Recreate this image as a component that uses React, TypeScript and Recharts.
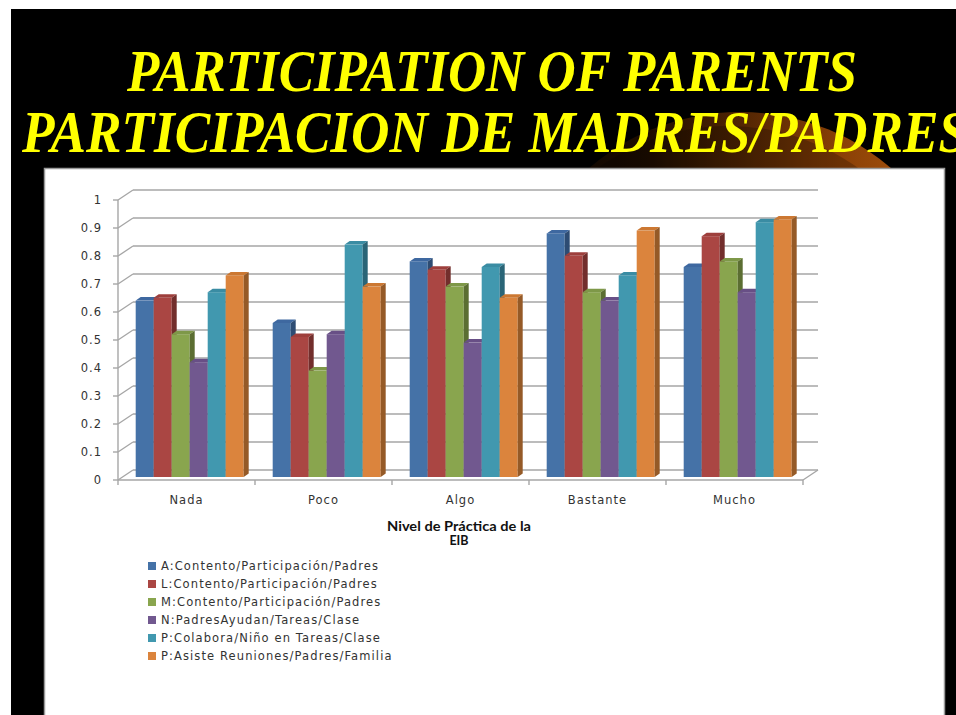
import React from 'react';
import { BarChart, Bar, XAxis, YAxis, CartesianGrid } from 'recharts';

// ---------- data ----------
const categories = ['Nada', 'Poco', 'Algo', 'Bastante', 'Mucho'];
const seriesNames = [
  'A:Contento/Participación/Padres',
  'L:Contento/Participación/Padres',
  'M:Contento/Participación/Padres',
  'N:PadresAyudan/Tareas/Clase',
  'P:Colabora/Niño en Tareas/Clase',
  'P:Asiste Reuniones/Padres/Familia',
];
const serA = [0.63, 0.55, 0.77, 0.87, 0.75];
const serL = [0.64, 0.5, 0.74, 0.79, 0.86];
const serM = [0.51, 0.38, 0.68, 0.66, 0.77];
const serN = [0.41, 0.51, 0.48, 0.63, 0.66];
const serPC = [0.66, 0.83, 0.75, 0.72, 0.91];
const serPA = [0.72, 0.68, 0.64, 0.88, 0.92];
const yTicks = [0, 0.1, 0.2, 0.3, 0.4, 0.5, 0.6, 0.7, 0.8, 0.9, 1];
const titleLines = ['PARTICIPATION OF PARENTS', 'PARTICIPACION DE MADRES/PADRES'];
const axisTitleLines = ['Nivel de Práctica de la', 'EIB'];

const allSeries = [serA, serL, serM, serN, serPC, serPA];
const keys = ['a', 'l', 'm', 'n', 'pc', 'pa'];
const fronts = ['#4572A7', '#AA4643', '#89A54E', '#71588F', '#4198AF', '#DB843D'];
const sides = ['#2D4C73', '#722E2C', '#5B6E32', '#4A3A60', '#2A6577', '#955A27'];
const tops = ['#3E68A0', '#9E3F3C', '#7E9848', '#684F86', '#3A8CA3', '#CC7832'];

const data = categories.map((c, i) => {
  const row: any = { cat: c };
  keys.forEach((k, j) => (row[k] = allSeries[j][i]));
  return row;
});

// ---------- layout ----------
const W = 956;
const H = 715;
const PL = 118;
const PR = 803;
const PT = 200;
const PB = 480;
const DX = 15;
const DY = 10;
const GRID = '#A6A6A6';
const SERIF = "'Liberation Serif', 'Times New Roman', Times, serif";

const make3D = (fill: string, side: string, top: string) => (props: any) => {
  const { x, y, width, height } = props;
  if (width == null || height == null) return <g />;
  const X = x + 4;
  const Y = y - 3;
  const d = 5;
  const e = 3.5;
  return (
    <g>
      <rect x={X} y={Y} width={width} height={height} fill={fill} />
      <polygon
        points={`${X},${Y} ${X + d},${Y - e} ${X + width + d},${Y - e} ${X + width},${Y}`}
        fill={top}
      />
      <polygon
        points={`${X + width},${Y} ${X + width + d},${Y - e} ${X + width + d},${Y + height - e} ${X + width},${Y + height}`}
        fill={side}
      />
    </g>
  );
};

const gridLine = (p: any) => {
  const { x1, x2, y1 } = p;
  const isFloor = y1 > PB - 1;
  return (
    <g key={p.key}>
      <line x1={x1} y1={y1} x2={x1 + DX} y2={y1 - DY} stroke={GRID} strokeWidth={1.4} />
      <line x1={x1 + DX} y1={y1 - DY} x2={x2 + DX} y2={y1 - DY} stroke={GRID} strokeWidth={1.4} />
      {isFloor && (
        <line x1={x2} y1={y1} x2={x2 + DX} y2={y1 - DY} stroke={GRID} strokeWidth={1.4} />
      )}
    </g>
  );
};

const XTick = (props: any) => {
  const { x, payload, index } = props;
  const half = (PR - PL) / categories.length / 2;
  return (
    <g>
      <line x1={x - half} y1={PB} x2={x - half} y2={PB + 5} stroke={GRID} strokeWidth={1.4} />
      {index === categories.length - 1 && (
        <line x1={x + half} y1={PB} x2={x + half} y2={PB + 5} stroke={GRID} strokeWidth={1.4} />
      )}
      <text
        x={x}
        y={PB + 24}
        textAnchor="middle"
        fontFamily="DejaVu Sans"
        fontSize={11.5}
        letterSpacing={1}
        fill="#333"
      >
        {payload.value}
      </text>
    </g>
  );
};

export default function App() {
  return (
    <div style={{ position: 'absolute', left: 0, top: 0, width: W, height: H, background: '#fff', overflow: 'hidden' }}>
      <svg width={W} height={H} style={{ position: 'absolute', left: 0, top: 0 }}>
        <defs>
          <linearGradient id="glow" x1="0" y1="0" x2="1" y2="0">
            <stop offset="0" stopColor="#000" />
            <stop offset="0.3" stopColor="#1e0d00" />
            <stop offset="0.72" stopColor="#8a4006" />
            <stop offset="1" stopColor="#b85e12" />
          </linearGradient>
          <clipPath id="glowClip">
            <rect x={0} y={0} width={W} height={169} />
          </clipPath>
        </defs>
        <rect x={0} y={0} width={W} height={H} fill="#fff" />
        <rect x={11} y={9} width={W - 11} height={H - 9} fill="#000" />
        <g clipPath="url(#glowClip)">
          <ellipse cx={740} cy={340} rx={230} ry={228} fill="url(#glow)" />
          <ellipse cx={728} cy={352} rx={224} ry={226} fill="#000" opacity={0.22} />
        </g>
        <text
          x={127}
          y={91}
          fontFamily={SERIF}
          fontWeight="bold"
          fontStyle="italic"
          fontSize={60}
          fill="#FFFF00"
          textLength={730}
          lengthAdjust="spacingAndGlyphs"
        >
          {titleLines[0]}
        </text>
        <text
          x={22}
          y={152}
          fontFamily={SERIF}
          fontWeight="bold"
          fontStyle="italic"
          fontSize={60}
          fill="#FFFF00"
          textLength={946}
          lengthAdjust="spacingAndGlyphs"
        >
          {titleLines[1]}
        </text>
        <rect x={44.5} y={168.5} width={900} height={H} fill="#fff" stroke="#9a9a9a" strokeWidth={1.5} />
        <text
          x={459}
          y={531}
          textAnchor="middle"
          fontFamily="Lato"
          fontWeight="bold"
          fontSize={12.5}
          fill="#111"
          textLength={144}
          lengthAdjust="spacingAndGlyphs"
        >
          {axisTitleLines[0]}
        </text>
        <text
          x={459}
          y={545}
          textAnchor="middle"
          fontFamily="Lato"
          fontWeight="bold"
          fontSize={12.5}
          fill="#111"
        >
          {axisTitleLines[1]}
        </text>
      </svg>

      <div style={{ position: 'absolute', left: 0, top: 0 }}>
        <BarChart
          width={W}
          height={H}
          data={data}
          margin={{ top: PT, right: W - PR, bottom: H - PB - 60, left: PL - 60 }}
          barCategoryGap="10%"
          barGap={0}
        >
          <CartesianGrid vertical={false} horizontal={gridLine} />
          <YAxis
            width={60}
            domain={[0, 1]}
            ticks={yTicks}
            interval={0}
            axisLine={{ stroke: GRID, strokeWidth: 1.4 }}
            tickLine={{ stroke: GRID, strokeWidth: 1.4 }}
            tickSize={5}
            tickMargin={11}
            tick={{ fill: '#333', fontSize: 11.5, fontFamily: 'DejaVu Sans', letterSpacing: 1 }}
            tickFormatter={(v: number) => String(v)}
          />
          <XAxis
            dataKey="cat"
            height={60}
            axisLine={{ stroke: GRID, strokeWidth: 1.4 }}
            tickLine={false}
            tick={<XTick />}
            interval={0}
          />
          {keys.map((k, j) => (
            <Bar
              key={k}
              dataKey={k}
              name={seriesNames[j]}
              fill={fronts[j]}
              isAnimationActive={false}
              shape={make3D(fronts[j], sides[j], tops[j])}
            />
          ))}
        </BarChart>
      </div>

      <div style={{ position: 'absolute', left: 148, top: 557 }}>
        {seriesNames.map((n, j) => (
          <div
            key={n}
            style={{
              display: 'flex',
              alignItems: 'center',
              height: 18,
              fontFamily: 'DejaVu Sans',
              fontSize: 11.5,
              letterSpacing: 1.1,
              color: '#333',
              whiteSpace: 'nowrap',
            }}
          >
            <span style={{ display: 'inline-block', width: 8, height: 8, background: fronts[j], marginRight: 5 }} />
            {n}
          </div>
        ))}
      </div>
    </div>
  );
}
